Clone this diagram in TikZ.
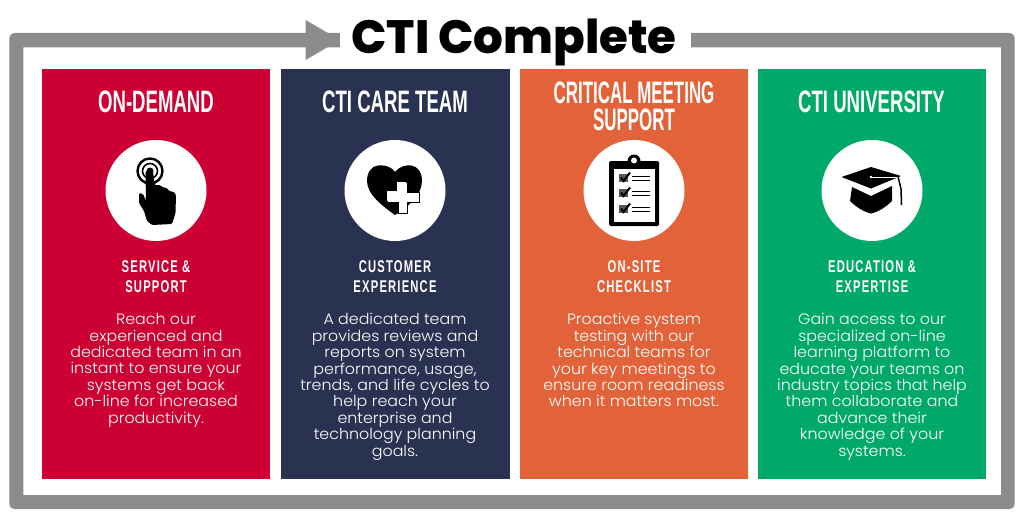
\documentclass[tikz,border=0pt]{standalone}
\usepackage{fontspec}
\setmainfont{Poppins}
\newfontfamily\titlefont{Poppins ExtraBold}
\newfontfamily\condfont{Liberation Sans Bold}[FakeStretch=0.6]
\newfontfamily\subfont{Liberation Sans Bold}[FakeStretch=0.66,LetterSpace=7]
\newfontfamily\bodyfont{Poppins Light}[FakeStretch=1.05]
\definecolor{cred}{HTML}{CC0033}
\definecolor{cnavy}{HTML}{2A3252}
\definecolor{corange}{HTML}{E2633A}
\definecolor{cgreen}{HTML}{00A969}
\definecolor{cgray}{HTML}{8C8C8C}
\tikzset{
  panel/.style={fill=#1,draw=none},
  heading/.style={text=white,align=center,font=\condfont\fontsize{31}{26.5}\selectfont,anchor=center},
  subhead/.style={text=white,align=center,font=\subfont\fontsize{17}{20}\selectfont,anchor=center},
  body/.style={text=white,align=center,font=\bodyfont\fontsize{15.1}{16.4}\selectfont,anchor=north},
  badge/.style={circle,fill=white,minimum size=101pt,inner sep=0pt},
  ttl/.style={font=\titlefont\fontsize{46.7}{50}\selectfont,text=black}
}
\begin{document}
\begin{tikzpicture}[x=1pt,y=-1pt]
\useasboundingbox (0,0) rectangle (1024,516);
\fill[white] (0,0) rectangle (1024,516);
% frame
\fill[cgray,even odd rule] [rounded corners=5pt] (9.3,33) rectangle (1014.7,509) (23.3,47.3) [sharp corners] rectangle (1001,495);
\fill[white] (340,30) rectangle (691,50);
\fill[cgray] (305.5,47.3) -- (305.5,20) -- (340,40) -- (305.5,60) -- (305.5,33) -- cycle;
\node[ttl] (title) at (514,42) {CTI Complete};
% panels
\fill[panel=cred] (41.5,69) rectangle (270,479);
\fill[panel=cnavy] (280.5,69) rectangle (509.5,479);
\fill[panel=corange] (519.5,69) rectangle (748,479);
\fill[panel=cgreen] (757.5,69) rectangle (986,479);
% headings
\node[heading] (h1) at (156,101.5) {ON-DEMAND};
\node[heading] (h2) at (395,101.5) {CTI CARE TEAM};
\node[heading,xscale=0.91] (h3) at (634,106.5) {CRITICAL MEETING\\SUPPORT};
\node[heading] (h4) at (871.5,101.5) {CTI UNIVERSITY};
% badges
\node[badge] (b1) at (156,190.5) {};
\node[badge] (b2) at (395,190.5) {};
\node[badge] (b3) at (634,190.5) {};
\node[badge] (b4) at (872,190.5) {};
% icon 1: hand
\begin{scope}[shift={(100,135)}]
\draw[black,line width=2.4pt] (50,36) circle (12.5);
\draw[black,line width=1.6pt] (50,36) circle (7.5);
\fill[black] (50,36) circle (3.5);
\fill[black,rounded corners=1.2pt] (45.5,36) -- (53,36) -- (54.5,50) -- (60,50) -- (62,52) -- (67,53) -- (69,56) -- (74,57) -- (76,60) -- (75.5,78) -- (72,89) -- (52,90) -- (47,86) -- (44,76) -- (39,68) -- (39,58) -- (43,59) -- (46,66) -- cycle;
\end{scope}
% icon 2: heart plus
\begin{scope}[shift={(340,135)}]
\fill[black] (55,37) .. controls (50,30) and (42,30) .. (38,30.5) .. controls (31,31) and (27,38) .. (27,46) .. controls (27,60) and (44,72) .. (55,80) .. controls (68,72) and (82,60) .. (82,46) .. controls (82,38) and (78,31) .. (71,30.5) .. controls (66,30) and (60,31) .. (55,37) -- cycle;
\path[fill=white,draw=black,line width=0.7pt] (60,47) -- (67,47) -- (67,57) -- (79,57) -- (79,67) -- (67,67) -- (67,78) -- (58,78) -- (58,67) -- (47,67) -- (47,57) -- (60,57) -- cycle;
\fill[white] (47,56) rectangle (60,66);
\fill[white] (57,46.5) rectangle (66,60);
\end{scope}
% icon 3: clipboard
\begin{scope}[shift={(580,135)}]
\fill[black,rounded corners=1.5pt] (29,26) rectangle (79,91);
\fill[white] (33.5,34) rectangle (74.5,86.5);
\fill[black,rounded corners=2pt] (38,27) rectangle (70,33);
\fill[black] (54,26) circle (6.5);
\fill[white] (54,25.5) circle (3);
\foreach \yy in {43,58,74}{
  \fill[black!65] (39,\yy-4) rectangle (47.5,\yy+4);
  \draw[black,line width=2pt] (41,\yy-0.5) -- (43.5,\yy+3) -- (50,\yy-5.5);
  \fill[black] (52,\yy-2.4) rectangle (69.5,\yy-0.8);
  \fill[black] (52,\yy+1.8) rectangle (69.5,\yy+3.4);
}
\end{scope}
% icon 4: cap
\begin{scope}[shift={(818,135)}]
\fill[black] (23.5,42) -- (53,32) -- (83,41) -- (53,53.5) -- cycle;
\fill[black] (34,52) -- (53,61) -- (74,51) -- (74,66) .. controls (68,72) and (60,77) .. (53,78.5) .. controls (46,77) and (38,72) .. (32,66) -- cycle;
\draw[white,line width=0.9pt] (53,42) -- (80,42);
\fill[white] (53,42) circle (1.3);
\draw[black,line width=1.5pt] (80,41.5) -- (83,54) -- (83.5,70);
\end{scope}
% subheads
\node[subhead] (s1) at (156,277) {SERVICE \&\\SUPPORT};
\node[subhead] (s2) at (395,277) {CUSTOMER\\EXPERIENCE};
\node[subhead] (s3) at (634,277) {ON-SITE\\CHECKLIST};
\node[subhead] (s4) at (872,277) {EDUCATION \&\\EXPERTISE};
% bodies
\node[body] (t1) at (156,310) {Reach our\\experienced and\\dedicated team in an\\instant to ensure your\\systems get back\\on-line for increased\\productivity.};
\node[body] (t2) at (395,310) {A dedicated team\\provides reviews and\\reports on system\\performance, usage,\\trends, and life cycles to\\help reach your\\enterprise and\\technology planning\\goals.};
\node[body] (t3) at (634,310) {Proactive system\\testing with our\\technical teams for\\your key meetings to\\ensure room readiness\\when it matters most.};
\node[body] (t4) at (872,310) {Gain access to our\\specialized on-line\\learning platform to\\educate your teams on\\industry topics that help\\them collaborate and\\advance their\\knowledge of your\\systems.};
\end{tikzpicture}
\end{document}
